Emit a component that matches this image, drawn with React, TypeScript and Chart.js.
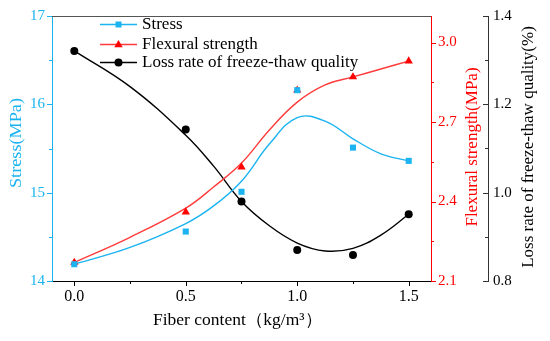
import React, { useEffect, useRef } from 'react';
import { Chart, registerables } from 'chart.js';

Chart.register(...registerables);

// Measured points
const fiberContent = [0, 0.5, 0.75, 1.0, 1.25, 1.5];
const stressValues = [14.19, 14.56, 15.01, 16.16, 15.51, 15.36];
const flexuralValues = [2.17, 2.36, 2.53, 2.82, 2.87, 2.93];
const lossRateValues = [1.321, 1.143, 0.98, 0.87, 0.859, 0.951];

// Fitted curves
const curveX = [0, 0.25, 0.5, 0.625, 0.75, 0.875, 1.0, 1.125, 1.25, 1.375, 1.5];
const stressCurve = [14.19, 14.38, 14.65, 14.85, 15.13, 15.55, 15.85, 15.81, 15.61, 15.44, 15.36];
const flexuralCurve = [2.17, 2.265, 2.375, 2.455, 2.545, 2.67, 2.775, 2.84, 2.87, 2.9, 2.93];
const lossRateCurve = [1.321, 1.24, 1.13, 1.06, 0.98, 0.925, 0.886, 0.868, 0.874, 0.904, 0.951];

// Tick labels / tick values
const xTicks = [0, 0.5, 1.0, 1.5];
const xMinorTicks = [0.25, 0.75, 1.25];
const stressTicks = [14, 15, 16, 17];
const stressMinorTicks = [14.5, 15.5, 16.5];
const flexuralTicks = [2.1, 2.4, 2.7, 3.0];
const flexuralMinorTicks = [2.25, 2.55, 2.85];
const lossTicks = [0.8, 1.0, 1.2, 1.4];
const lossMinorTicks = [0.9, 1.1, 1.3];

const seriesNames = ['Stress', 'Flexural strength', 'Loss rate of freeze-thaw quality'];
const xTitle = 'Fiber content（kg/m³）';
const stressTitle = 'Stress(MPa)';
const flexuralTitle = 'Flexural strength(MPa)';
const lossTitle = 'Loss rate of freeze-thaw quality(%)';

const CYAN = '#1BB4F0';
const RED = '#FF0000';
const RED_LINE = '#FF3B3B';
const BLACK = '#000000';
const DARK = '#333333';
const FONT = "'Liberation Serif', 'Times New Roman', serif";

function toPts(xs: number[], ys: number[]) {
  return xs.map((x, i) => ({ x, y: ys[i] }));
}

function drawMarker(ctx: CanvasRenderingContext2D, style: string, x: number, y: number, color: string) {
  ctx.save();
  ctx.fillStyle = color;
  ctx.beginPath();
  if (style === 'rect') {
    ctx.rect(x - 3, y - 3, 6, 6);
  } else if (style === 'triangle') {
    ctx.moveTo(x, y - 4.5);
    ctx.lineTo(x + 4.2, y + 2.8);
    ctx.lineTo(x - 4.2, y + 2.8);
    ctx.closePath();
  } else {
    ctx.arc(x, y, 4, 0, Math.PI * 2);
  }
  ctx.fill();
  ctx.restore();
}

// draw text centred at (cx, cy), optionally rotated, stretched along its length to a target length
function drawTitle(
  ctx: CanvasRenderingContext2D,
  text: string,
  cx: number,
  cy: number,
  color: string,
  rotate: boolean,
  targetLen?: number
) {
  ctx.save();
  ctx.translate(cx, cy);
  if (rotate) ctx.rotate(-Math.PI / 2);
  if (targetLen) {
    const w = ctx.measureText(text).width;
    if (w > 0) ctx.scale(targetLen / w, 1);
  }
  ctx.fillStyle = color;
  ctx.fillText(text, 0, 0);
  ctx.restore();
}

const decorPlugin = {
  id: 'decor',
  afterDraw(chart: any) {
    const ctx: CanvasRenderingContext2D = chart.ctx;
    const ca = chart.chartArea;
    const { x, y, y1, y2 } = chart.scales;
    ctx.save();
    // top frame line
    ctx.strokeStyle = '#555555';
    ctx.lineWidth = 1;
    ctx.beginPath();
    ctx.moveTo(ca.left, Math.round(ca.top) + 0.5);
    ctx.lineTo(ca.right, Math.round(ca.top) + 0.5);
    ctx.stroke();

    const vTicks = (scale: any, vals: number[], x0: number, len: number, color: string) => {
      ctx.strokeStyle = color;
      ctx.lineWidth = 1;
      vals.forEach((v) => {
        const py = Math.round(scale.getPixelForValue(v)) + 0.5;
        ctx.beginPath();
        ctx.moveTo(x0, py);
        ctx.lineTo(x0 + len, py);
        ctx.stroke();
      });
    };
    const hTicks = (vals: number[], len: number) => {
      ctx.strokeStyle = BLACK;
      ctx.lineWidth = 1;
      vals.forEach((v) => {
        const px = Math.round(x.getPixelForValue(v)) + 0.5;
        ctx.beginPath();
        ctx.moveTo(px, x.top);
        ctx.lineTo(px, x.top + len);
        ctx.stroke();
      });
    };
    vTicks(y, stressTicks, y.right, -5, CYAN);
    vTicks(y, stressMinorTicks, y.right, -3, CYAN);
    vTicks(y1, flexuralTicks, y1.left, 5, RED);
    vTicks(y1, flexuralMinorTicks, y1.left, 3, RED);
    vTicks(y2, lossTicks, y2.left, -5, DARK);
    vTicks(y2, lossMinorTicks, y2.left, -3, DARK);
    hTicks(xTicks, 5);
    hTicks(xMinorTicks, 3);

    // axis titles
    ctx.font = `17px ${FONT}`;
    ctx.textAlign = 'center';
    ctx.textBaseline = 'middle';
    drawTitle(ctx, stressTitle, 17, 143, CYAN, true, 90);
    drawTitle(ctx, flexuralTitle, 473, 147, RED, true);
    drawTitle(ctx, lossTitle, 529, 147, BLACK, true);
    drawTitle(ctx, xTitle, 237.5, 321, BLACK, false, 169);

    // legend
    const rows = [
      { color: CYAN, style: 'rect' },
      { color: RED, style: 'triangle' },
      { color: BLACK, style: 'circle' },
    ];
    const rowY = [24, 44, 62];
    ctx.textAlign = 'left';
    rows.forEach((r, i) => {
      const ly = rowY[i] + 0.5;
      ctx.strokeStyle = r.color === RED ? RED_LINE : r.color;
      ctx.lineWidth = 1.3;
      ctx.beginPath();
      ctx.moveTo(100, ly);
      ctx.lineTo(137, ly);
      ctx.stroke();
      drawMarker(ctx, r.style, 118.5, ly, r.color);
      ctx.fillStyle = BLACK;
      ctx.fillText(seriesNames[i], 142, rowY[i] + 1);
    });
    ctx.restore();
  },
};

export default function App() {
  const ref = useRef<HTMLCanvasElement | null>(null);
  useEffect(() => {
    if (!ref.current) return;
    const yTickFont = { family: FONT, size: 15 };
    const xTickFont = { family: FONT, size: 16 };
    const chart = new Chart(ref.current, {
      type: 'line',
      data: {
        datasets: [
          {
            label: seriesNames[0],
            data: toPts(fiberContent, stressValues),
            yAxisID: 'y',
            showLine: false,
            pointStyle: 'rect',
            pointRadius: 4.3,
            backgroundColor: CYAN,
            borderColor: CYAN,
            borderWidth: 0,
          },
          {
            label: seriesNames[1],
            data: toPts(fiberContent, flexuralValues),
            yAxisID: 'y1',
            showLine: false,
            pointStyle: 'triangle',
            pointRadius: 4.8,
            backgroundColor: RED,
            borderColor: RED,
            borderWidth: 0,
          },
          {
            label: seriesNames[2],
            data: toPts(fiberContent, lossRateValues),
            yAxisID: 'y2',
            showLine: false,
            pointStyle: 'circle',
            pointRadius: 4,
            backgroundColor: BLACK,
            borderColor: BLACK,
            borderWidth: 0,
          },
          {
            label: 'stress fit',
            data: toPts(curveX, stressCurve),
            yAxisID: 'y',
            pointRadius: 0,
            borderColor: CYAN,
            borderWidth: 1.4,
            tension: 0.4,
            fill: false,
          },
          {
            label: 'flexural fit',
            data: toPts(curveX, flexuralCurve),
            yAxisID: 'y1',
            pointRadius: 0,
            borderColor: RED_LINE,
            borderWidth: 1.4,
            tension: 0.4,
            fill: false,
          },
          {
            label: 'loss fit',
            data: toPts(curveX, lossRateCurve),
            yAxisID: 'y2',
            pointRadius: 0,
            borderColor: BLACK,
            borderWidth: 1.4,
            tension: 0.4,
            fill: false,
          },
        ],
      },
      options: {
        responsive: false,
        animation: false,
        devicePixelRatio: 1,
        layout: { padding: { top: 15, left: 0, right: 0, bottom: 0 } },
        plugins: { legend: { display: false }, tooltip: { enabled: false } },
        scales: {
          x: {
            type: 'linear',
            position: 'bottom',
            min: -0.1,
            max: 1.6,
            grid: { display: false, drawTicks: false },
            border: { display: true, color: BLACK, width: 1 },
            ticks: {
              color: BLACK,
              font: xTickFont,
              padding: 6,
              callback: (v: any) => Number(v).toFixed(1),
            },
            afterBuildTicks: (s: any) => {
              s.ticks = xTicks.map((v) => ({ value: v }));
            },
            afterFit: (s: any) => {
              s.height = 60;
            },
          },
          y: {
            type: 'linear',
            position: 'left',
            min: 14,
            max: 17,
            grid: { display: false, drawTicks: false },
            border: { display: true, color: CYAN, width: 1 },
            ticks: {
              color: CYAN,
              font: yTickFont,
              padding: 7,
              callback: (v: any) => String(v),
            },
            afterBuildTicks: (s: any) => {
              s.ticks = stressTicks.map((v) => ({ value: v }));
            },
            afterFit: (s: any) => {
              s.width = 52;
            },
          },
          y1: {
            type: 'linear',
            position: 'right',
            weight: 0,
            min: 2.1,
            max: 3.1,
            grid: { display: false, drawTicks: false },
            border: { display: true, color: RED, width: 1 },
            ticks: {
              color: RED,
              font: yTickFont,
              padding: 7,
              callback: (v: any) => Number(v).toFixed(1),
            },
            afterBuildTicks: (s: any) => {
              s.ticks = flexuralTicks.map((v) => ({ value: v }));
            },
            afterFit: (s: any) => {
              s.width = 57;
            },
          },
          y2: {
            type: 'linear',
            position: 'right',
            weight: 1,
            min: 0.8,
            max: 1.4,
            grid: { display: false, drawTicks: false },
            border: { display: true, color: DARK, width: 1 },
            ticks: {
              color: BLACK,
              font: yTickFont,
              padding: 5,
              callback: (v: any) => Number(v).toFixed(1),
            },
            afterBuildTicks: (s: any) => {
              s.ticks = lossTicks.map((v) => ({ value: v }));
            },
            afterFit: (s: any) => {
              s.width = 62;
            },
          },
        },
      },
      plugins: [decorPlugin],
    } as any);
    return () => chart.destroy();
  }, []);
  return (
    <div style={{ position: 'fixed', left: 0, top: 0, width: 550, height: 341, background: '#fff' }}>
      <canvas ref={ref} width={550} height={341} style={{ display: 'block' }} />
    </div>
  );
}
